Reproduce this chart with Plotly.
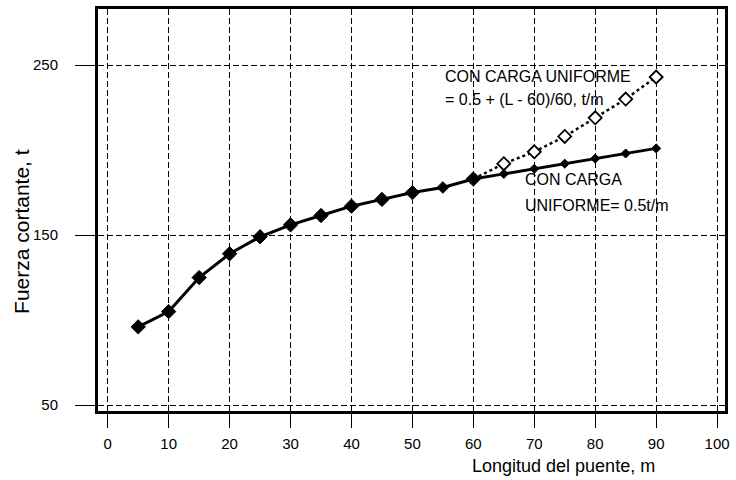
import plotly.graph_objects as go

# Bridge span (m) and shear force (t)
longitud = [5, 10, 15, 20, 25, 30, 35, 40, 45, 50, 55, 60, 65, 70, 75, 80, 85, 90]
cortante_05 = [96, 105, 125, 139, 149, 156, 161.5, 167, 171, 175, 178, 183, 186, 189, 192, 195, 198, 201]

longitud_var = [60, 65, 70, 75, 80, 85, 90]
cortante_var = [183, 192, 199, 208, 219, 230, 243]

x_ticks = [0, 10, 20, 30, 40, 50, 60, 70, 80, 90, 100]
y_ticks = [50, 150, 250]

FONT = "Liberation Sans, Arial, sans-serif"
GRID_DASH = "6px,3px"

fig = go.Figure()

fig.add_trace(go.Scatter(
    x=longitud_var, y=cortante_var, mode="lines+markers",
    line=dict(color="black", width=2.5, dash="dot"),
    marker=dict(symbol="diamond", size=10, color="white", opacity=1,
                line=dict(color="black", width=1.8)),
    showlegend=False,
))

marker_sizes = [11 if x <= 50 else (9 if x <= 60 else 7) for x in longitud]
fig.add_trace(go.Scatter(
    x=longitud, y=cortante_05, mode="lines+markers",
    line=dict(color="black", width=3),
    marker=dict(symbol="diamond", size=marker_sizes, color="black", opacity=1,
                line=dict(color="black", width=1)),
    showlegend=False,
))

ann_font = dict(family=FONT, size=16, color="black")
fig.add_annotation(x=55.0, y=243.5, xref="x", yref="y", text="CON CARGA UNIFORME",
                   showarrow=False, xanchor="left", yanchor="middle", font=ann_font)
fig.add_annotation(x=55.0, y=229.5, xref="x", yref="y", text="= 0.5 + (L - 60)/60, t/m",
                   showarrow=False, xanchor="left", yanchor="middle", font=ann_font)
fig.add_annotation(x=68.1, y=182.5, xref="x", yref="y", text="CON CARGA",
                   showarrow=False, xanchor="left", yanchor="middle", font=ann_font)
fig.add_annotation(x=68.1, y=167.5, xref="x", yref="y", text="UNIFORME= 0.5t/m",
                   showarrow=False, xanchor="left", yanchor="middle", font=ann_font)

# Axis titles
fig.add_annotation(x=(567.5 - 98) / 632, y=(411 - 466) / 405, xref="paper", yref="paper",
                   text="Longitud del puente, m", showarrow=False,
                   xanchor="center", yanchor="middle",
                   font=dict(family=FONT, size=18, color="black"))
fig.add_annotation(x=(21 - 98) / 632, y=(411 - 230) / 405, xref="paper", yref="paper",
                   text="Fuerza cortante, t", showarrow=False, textangle=-90,
                   xanchor="center", yanchor="middle",
                   font=dict(family=FONT, size=21, color="black"))

fig.update_xaxes(
    range=[-1.6, 101.3], tickvals=x_ticks, ticktext=[str(v) for v in x_ticks],
    showgrid=True, gridcolor="black", gridwidth=1, griddash=GRID_DASH,
    showline=True, linecolor="black", linewidth=3, mirror=True,
    ticks="outside", ticklen=14, tickwidth=1, tickcolor="black",
    ticklabelstandoff=3, zeroline=False,
    tickfont=dict(family=FONT, size=15, color="black"),
)
fig.update_yaxes(
    range=[46.5, 283], tickvals=y_ticks, ticktext=[str(v) for v in y_ticks],
    showgrid=True, gridcolor="black", gridwidth=1, griddash=GRID_DASH,
    showline=True, linecolor="black", linewidth=3, mirror=True,
    ticks="outside", ticklen=20, tickwidth=1, tickcolor="black",
    ticklabelstandoff=14, zeroline=False,
    tickfont=dict(family=FONT, size=15, color="black"),
)

fig.update_layout(
    width=736, height=480,
    margin=dict(l=98, r=6, t=6, b=69),
    paper_bgcolor="white", plot_bgcolor="white",
    font=dict(family=FONT, color="black"),
)

fig.write_html("out.html")
